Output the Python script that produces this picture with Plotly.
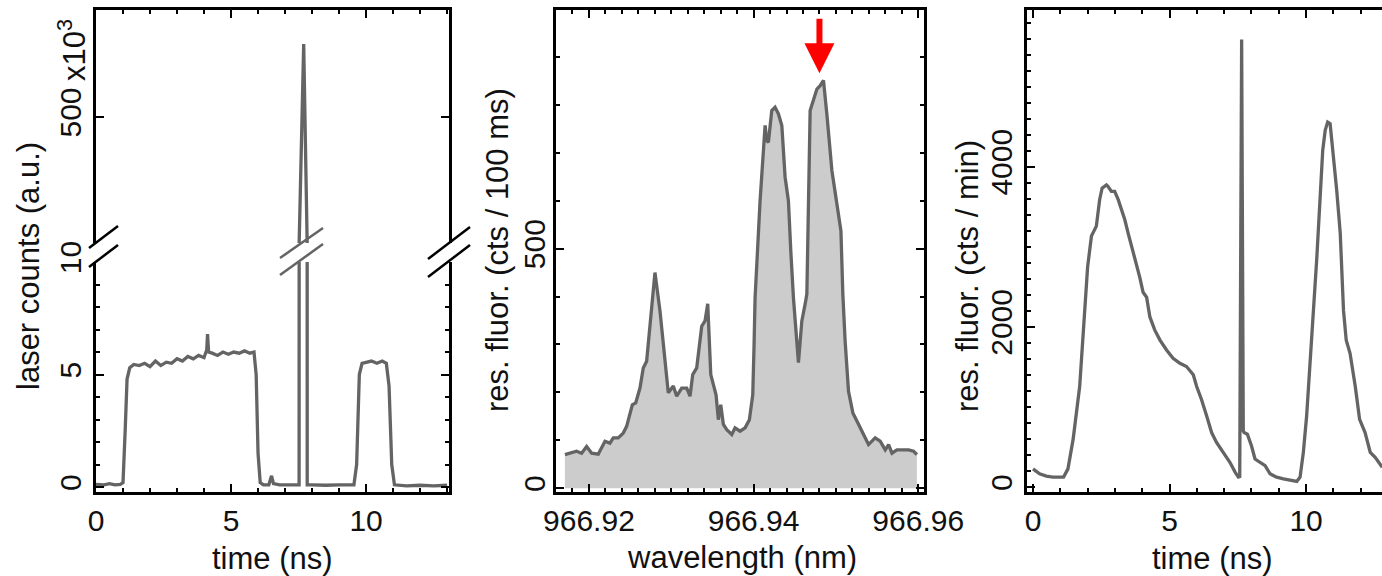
import plotly.graph_objects as go

# ---------------- data ----------------
# Panel 1: laser counts (x10^3) vs time (ns)
laser_t = [0.0, 0.3, 0.5, 0.7, 0.9, 1.0, 1.08, 1.15, 1.25, 1.4, 1.6, 1.8, 2.0, 2.2, 2.4, 2.6,
           2.8, 3.0, 3.2, 3.4, 3.6, 3.8, 4.0, 4.1, 4.13, 4.17, 4.3, 4.5, 4.7, 4.9, 5.1, 5.3,
           5.5, 5.7, 5.85, 5.93, 6.0, 6.08, 6.2, 6.4, 6.5, 6.57, 6.8, 7.0, 7.3, 7.52, 7.69,
           7.82, 8.0, 8.5, 9.0, 9.55, 9.65, 9.75, 9.85, 10.0, 10.2, 10.4, 10.6, 10.75, 10.85,
           10.95, 11.05, 11.5, 12.0, 12.5, 13.0]
laser_v = [0.12, 0.1, 0.15, 0.1, 0.12, 0.2, 2.5, 4.8, 5.3, 5.45, 5.4, 5.5, 5.35, 5.6, 5.4, 5.55,
           5.5, 5.7, 5.6, 5.8, 5.7, 5.85, 5.75, 6.1, 6.8, 6.0, 5.95, 5.85, 6.0, 5.9, 6.0, 5.95,
           6.05, 5.95, 6.0, 5.0, 1.5, 0.2, 0.1, 0.1, 0.5, 0.15, 0.1, 0.1, 0.1, 0.1, 784,
           0.1, 0.1, 0.08, 0.1, 0.1, 1.0, 5.0, 5.5, 5.55, 5.6, 5.5, 5.6, 5.5, 4.5,
           1.0, 0.1, 0.05, 0.08, 0.05, 0.08]

# Panel 2: resonance fluorescence (cts / 100 ms) vs wavelength (nm)
wavelength = [966.91708, 966.91769, 966.9185, 966.91911, 966.91972, 966.92033, 966.92113,
              966.92195, 966.92255, 966.92296, 966.92356, 966.92417, 966.92458, 966.92527,
              966.92568, 966.9262, 966.9266, 966.92701, 966.92742, 966.92802, 966.92863,
              966.92916, 966.92964, 966.93025, 966.93066, 966.93127, 966.93188, 966.93228,
              966.93261, 966.93309, 966.9337, 966.9341, 966.93443, 966.9348, 966.93544,
              966.93572, 966.93601, 966.93633, 966.93674, 966.93735, 966.93775, 966.93836,
              966.93897, 966.93949, 966.9399, 966.94006, 966.94018, 966.94079, 966.9414,
              966.9416, 966.9418, 966.94221, 966.94261, 966.94302, 966.94343, 966.94383,
              966.94423, 966.94452, 966.94484, 966.94545, 966.94586, 966.94626, 966.94647,
              966.94687, 966.94728, 966.94769, 966.94809, 966.94849, 966.9489, 966.94951,
              966.95012, 966.95061, 966.95084, 966.95112, 966.95153, 966.95206, 966.95255,
              966.95335, 966.95396, 966.95477, 966.95538, 966.95599, 966.9564, 966.95681,
              966.95741, 966.95822, 966.95883, 966.95944, 966.95984]
fluor_spec = [70, 73, 77, 73, 87, 73, 71,
              98, 94, 105, 105, 115, 129, 174,
              178, 209, 251, 265, 335, 450, 370,
              272, 199, 213, 192, 209, 209, 192,
              237, 251, 338, 349, 385, 237, 195,
              143, 174, 133, 122, 112, 126, 119,
              126, 143, 195, 300, 397, 600, 757,
              725, 722, 788, 795, 781, 757, 649,
              600, 495, 397, 262, 349, 384, 405,
              788, 813, 833, 840, 851, 781, 663,
              593, 537, 405, 307, 202, 157, 140,
              112, 91, 105, 98, 80, 91, 73,
              80, 80, 80, 77, 70]

# Panel 3: resonance fluorescence (cts / min) vs time (ns)
fl_t = [0.0, 0.24, 0.49, 0.73, 0.98, 1.12, 1.28, 1.47, 1.71, 1.87, 2.0, 2.14, 2.32, 2.44, 2.53,
        2.69, 2.75, 2.87, 2.99, 3.12, 3.24, 3.36, 3.48, 3.61, 3.79, 3.91, 4.03, 4.16, 4.28,
        4.46, 4.65, 4.89, 5.13, 5.38, 5.62, 5.87, 5.99, 6.17, 6.36, 6.54, 6.72, 6.97, 7.21,
        7.40, 7.52, 7.57, 7.64, 7.70, 7.73, 7.85, 8.0, 8.13, 8.31, 8.50, 8.68, 8.92, 9.17,
        9.41, 9.66, 9.78, 9.90, 10.02, 10.15, 10.27, 10.39, 10.51, 10.61, 10.70, 10.79,
        10.88, 11.0, 11.12, 11.25, 11.31, 11.37, 11.47, 11.61, 11.80, 11.96, 12.16, 12.35,
        12.53, 12.79]
fl_v = [227, 165, 136, 124, 124, 124, 227, 598, 1258, 2100, 2750, 3134, 3258, 3588, 3732,
        3773, 3753, 3691, 3691, 3588, 3464, 3340, 3175, 3010, 2760, 2619, 2433, 2371, 2124,
        1959, 1835, 1711, 1608, 1546, 1505, 1402, 1258, 1093, 887, 680, 557, 433, 309,
        186, 124, 130, 5588, 700, 680, 660, 515, 350, 309, 268, 165, 124, 103,
        82, 70, 124, 433, 887, 1588, 2082, 2845, 3588, 4206, 4454, 4557,
        4536, 4165, 3711, 3175, 2763, 2206, 1835, 1670, 1258, 845, 680, 433,
        371, 247]

arrow_wl = 966.948
arrow_val = 866

# ---------------- layout helpers ----------------
W, H = 1382, 576
FONT = "Liberation Sans, Arial, sans-serif"
LINE_C = "rgb(100,100,100)"
FILL_C = "rgb(204,204,204)"
BREAK_LEVEL = 10  # value where the panel-1 y axis is broken


def px(x):
    return x / W


def py(y):
    return 1 - y / H


axis_common = dict(
    showline=True, linecolor="black", linewidth=3,
    ticks="inside", ticklen=8, tickwidth=2, tickcolor="black",
    showgrid=False, zeroline=False, automargin=False,
    tickfont=dict(family=FONT, size=30, color="#111"),
)

fig = go.Figure()

trace_style = dict(mode="lines", line=dict(color=LINE_C, width=3.3), showlegend=False,
                   hoverinfo="skip")

# upper (compressed) part of the broken axis: only the samples around the spike
upper_v = []
for i, v in enumerate(laser_v):
    near = [laser_v[j] for j in (i - 1, i, i + 1) if 0 <= j < len(laser_v)]
    upper_v.append(v if max(near) >= BREAK_LEVEL else None)

fig.add_trace(go.Scatter(x=laser_t, y=laser_v, xaxis="x", yaxis="y", **trace_style))
fig.add_trace(go.Scatter(x=laser_t, y=upper_v, xaxis="x4", yaxis="y4",
                         connectgaps=False, **trace_style))
fig.add_trace(go.Scatter(x=wavelength, y=fluor_spec, xaxis="x2", yaxis="y2",
                         fill="tozeroy", fillcolor=FILL_C, **trace_style))
fig.add_trace(go.Scatter(x=fl_t, y=fl_v, xaxis="x3", yaxis="y3", **trace_style))

p1 = [px(96), px(449)]
p2 = [px(556), px(924)]
p3 = [px(1027), 1.0]
main_y = [py(492), py(10)]
low_y = [py(492), py(262)]
up_y = [py(243), py(10)]

minor_int = dict(ticks="inside", ticklen=4, tickwidth=2, tickcolor="black", dtick=1)

fig.update_layout(
    width=W, height=H, autosize=False,
    margin=dict(l=0, r=0, t=0, b=0, autoexpand=False),
    paper_bgcolor="white", plot_bgcolor="white",
    font=dict(family=FONT, size=30, color="#111"),
    xaxis=dict(domain=p1, anchor="y", range=[0, 13.07], tick0=0, dtick=5,
               minor=minor_int, mirror=False, **axis_common),
    yaxis=dict(domain=low_y, anchor="x", range=[-0.22, 10.001], tickvals=[0, 5, 10],
               minor=dict(ticks="inside", ticklen=4, tickwidth=2, tickcolor="black",
                          tickvals=[1, 2, 3, 4, 6, 7, 8, 9]),
               mirror="ticks", tickangle=-90, **axis_common),
    xaxis4=dict(domain=p1, anchor="y4", side="top", range=[0, 13.07], tick0=0, dtick=5,
                minor=minor_int, showticklabels=False, mirror=False, **axis_common),
    yaxis4=dict(domain=up_y, anchor="x4", range=[BREAK_LEVEL, 916], tickvals=[500],
                mirror="ticks", tickangle=-90, **axis_common),
    xaxis2=dict(domain=p2, anchor="y2", range=[966.9160, 966.9607], tick0=966.92,
                dtick=0.02, tickformat=".2f",
                minor=dict(ticks="inside", ticklen=4, tickwidth=2, tickcolor="black",
                           dtick=0.002, tick0=966.92),
                mirror="ticks", **axis_common),
    yaxis2=dict(domain=main_y, anchor="x2", range=[-8, 998], tick0=0, dtick=500,
                minor=dict(ticks="inside", ticklen=4, tickwidth=2, tickcolor="black",
                           dtick=100),
                mirror="ticks", tickangle=-90, ticklabelstandoff=-4, **axis_common),
    xaxis3=dict(domain=p3, anchor="y3", range=[-0.22, 12.78], tick0=0, dtick=5,
                minor=minor_int, mirror="ticks", **axis_common),
    yaxis3=dict(domain=main_y, anchor="x3", range=[-62, 5957], tick0=0, dtick=2000,
                minor=dict(ticks="inside", ticklen=4, tickwidth=2, tickcolor="black",
                           dtick=200),
                mirror=False, tickangle=-90, **axis_common),
)

# ---------------- text ----------------
title_font = dict(family=FONT, size=31, color="#111")
annots = [
    dict(text="time (ns)", x=px(272), y=py(558)),
    dict(text="wavelength (nm)", x=px(742), y=py(557)),
    dict(text="time (ns)", x=px(1212), y=py(558)),
    dict(text="laser counts (a.u.)", x=px(28), y=py(266), textangle=-90),
    dict(text="res. fluor. (cts / 100 ms)", x=px(497), y=py(250), textangle=-90),
    dict(text="res. fluor. (cts / min)", x=px(967), y=py(276), textangle=-90),
    dict(text="x10<sup>3</sup>", x=px(72), y=py(50), textangle=-90),
]
for a in annots:
    fig.add_annotation(xref="paper", yref="paper", showarrow=False,
                       xanchor="center", yanchor="middle", font=title_font, **a)

# red arrow marking the selected line
fig.add_annotation(x=arrow_wl, y=arrow_val, xref="x2", yref="y2", text="",
                   showarrow=True, ax=0, ay=-56, arrowhead=2, arrowsize=1.0,
                   arrowwidth=6, arrowcolor="red")

# ---------------- axis-break marks ----------------
def brk(x0, y0, x1, y1, color):
    fig.add_shape(type="line", xref="paper", yref="paper",
                  x0=px(x0), y0=py(y0), x1=px(x1), y1=py(y1),
                  line=dict(color=color, width=2.5))

# left axis
brk(89, 248, 118, 226, "black")
brk(89, 267, 118, 245, "black")
# through the spike
brk(280, 258, 323, 228, LINE_C)
brk(280, 275, 323, 244, LINE_C)
# right axis
brk(428, 259, 470, 227, "black")
brk(428, 277, 470, 245, "black")

fig.write_html("out.html",
               config={"displayModeBar": False},
               post_script="document.body.style.margin='0px';"
                           "document.body.style.overflow='hidden';")
